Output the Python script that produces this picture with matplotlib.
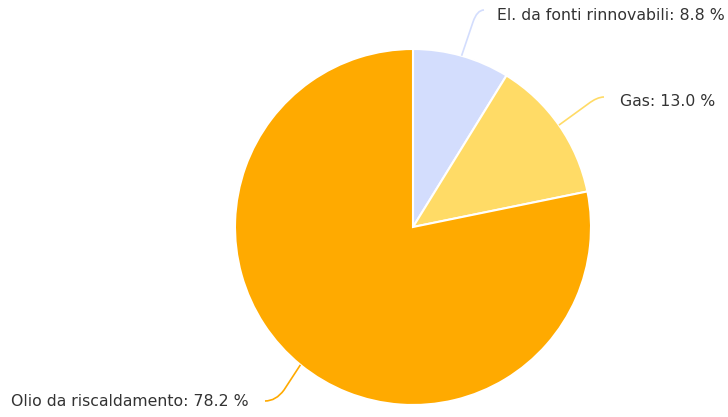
import matplotlib.pyplot as plt
from matplotlib.path import Path
import matplotlib.patches as mpatches
import numpy as np

labels = ["El. da fonti rinnovabili", "Gas", "Olio da riscaldamento"]
shares = [8.8, 13.0, 78.2]
colors = ["#d3ddfd", "#ffdb66", "#ffaa00"]

W, H = 728, 417
fig = plt.figure(figsize=(W / 100, H / 100), dpi=100)
ax = fig.add_axes([0, 0, 1, 1])

cx, cy, r = 413, H - 227, 178
wedges, _ = ax.pie(shares, colors=colors, startangle=90, counterclock=False,
                   center=(cx, cy), radius=r, frame=True,
                   wedgeprops=dict(edgecolor="white", linewidth=1.5))
ax.set_xlim(0, W)
ax.set_ylim(0, H)
ax.set_aspect("auto")
ax.axis("off")

# connector: straight to (sx, sy), bend via (kx, ky) to (ex, ey); label at (tx, ty)
# all in pixels measured from the top
layout = [
    ((473, 22), (477, 10), (484, 10), (497, 15), "left"),
    ((588, 104), (597, 97), (604, 97), (620, 101), "left"),
    ((284, 390), (276, 401), (265, 401), (249, 402), "right"),
]

for w, lab, val, col, (s, k, e, t, ha) in zip(wedges, labels, shares, colors, layout):
    mid = np.deg2rad((w.theta1 + w.theta2) / 2)
    px, py = cx + r * np.cos(mid), cy + r * np.sin(mid)
    verts = [(px, py), (s[0], H - s[1]), (k[0], H - k[1]), (e[0], H - e[1])]
    path = Path(verts, [Path.MOVETO, Path.LINETO, Path.CURVE3, Path.CURVE3])
    ax.add_patch(mpatches.PathPatch(path, fill=False, edgecolor=col, lw=1.2))
    ax.text(t[0], H - t[1], f"{lab}: {val:.1f} %", ha=ha, va="center",
            fontsize=11.3, color="#333333")

fig.savefig("out.png", dpi=100)
